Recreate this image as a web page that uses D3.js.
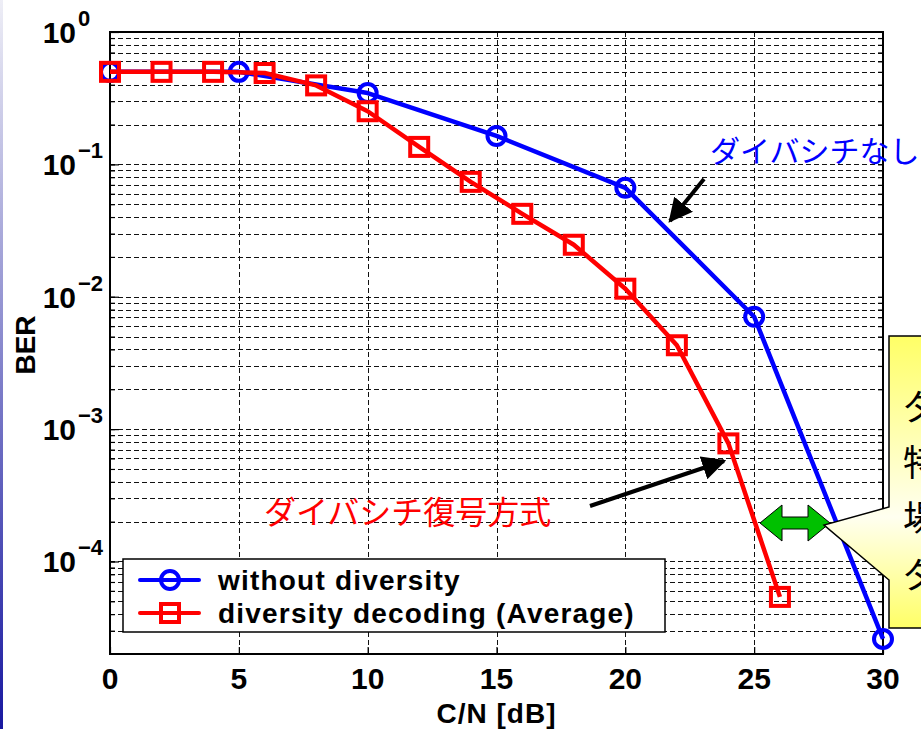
<!DOCTYPE html>
<html>
<head>
<meta charset="utf-8">
<script src="https://cdn.jsdelivr.net/npm/d3@7"></script>
<style>
  body { margin: 0; background: #fff; }
  svg { display: block; }
  .tick text { display: none; }
  .domain { display: none; }
</style>
</head>
<body>
<svg class="chart" width="921" height="729"></svg>
<script>
// data
var cnBlue = [0, 5, 10, 15, 20, 25, 30];
var berBlue = [0.5, 0.5, 0.346, 0.164, 0.0665, 0.00706, 2.6e-5];
var cnRed = [0, 2, 4, 6, 8, 10, 12, 14, 16, 18, 20, 22, 24, 26];
var berRed = [0.5, 0.5, 0.5, 0.49, 0.395, 0.252, 0.1355, 0.0738, 0.0423, 0.0247, 0.0115, 0.0043, 7.8e-4, 5.4e-5];
var xTicks = [0, 5, 10, 15, 20, 25, 30];
var yExps = [0, -1, -2, -3, -4];
var legendLabels = ["without diversity", "diversity decoding (Average)"];

// plot box (window.top is reserved, so use other names)
var pLeft = 110, pRight = 883, pTop = 32, pBottom = 654;

var x = d3.scaleLinear().domain([0, 30]).range([pLeft, pRight]);
var y = d3.scaleLog().domain([2e-5, 1]).range([pBottom, pTop]);

var chart = d3.select(".chart");
var defs = chart.append("defs");

// left edge gradient strip
var sideGrad = defs.append("linearGradient").attr("id", "side")
    .attr("x1", 0).attr("y1", 0).attr("x2", 0).attr("y2", 1);
sideGrad.append("stop").attr("offset", 0).attr("stop-color", "#eeeef6");
sideGrad.append("stop").attr("offset", 1).attr("stop-color", "#1818a0");
chart.append("rect").attr("x", 0).attr("y", 0).attr("width", 3).attr("height", 729)
    .attr("fill", "url(#side)");

// minor log values for grid
var minor = [];
[-5, -4, -3, -2, -1].forEach(function(e) {
  for (var k = 1; k <= 9; k++) {
    var v = k * Math.pow(10, e);
    if (v > 2.05e-5 && v < 0.999) minor.push(v);
  }
});

// grid
var grid = chart.append("g").attr("stroke", "#111").attr("stroke-width", 1)
    .attr("stroke-dasharray", "5,3").attr("fill", "none");
grid.selectAll("line.h").data(minor).enter().append("line")
    .attr("x1", pLeft).attr("x2", pRight)
    .attr("y1", function(d) { return Math.round(y(d)) + 0.5; })
    .attr("y2", function(d) { return Math.round(y(d)) + 0.5; });
grid.selectAll("line.v").data(xTicks.slice(1, -1)).enter().append("line")
    .attr("y1", pTop).attr("y2", pBottom)
    .attr("x1", function(d) { return Math.round(x(d)) + 0.5; })
    .attr("x2", function(d) { return Math.round(x(d)) + 0.5; });

// ticks (inside)
chart.append("g").attr("transform", "translate(" + pLeft + ",0)")
    .call(d3.axisLeft(y).tickValues(minor).tickSize(-5).tickFormat(""));
chart.append("g").attr("transform", "translate(" + pLeft + ",0)")
    .call(d3.axisLeft(y).tickValues(yExps.map(function(e) { return Math.pow(10, e); })).tickSize(-9).tickFormat(""));
chart.append("g").attr("transform", "translate(" + pRight + ",0)")
    .call(d3.axisRight(y).tickValues(minor).tickSize(-5).tickFormat(""));
chart.append("g").attr("transform", "translate(0," + pBottom + ")")
    .call(d3.axisBottom(x).tickValues(xTicks).tickSize(-7).tickFormat(""));
chart.selectAll(".tick line").attr("stroke", "#000").attr("stroke-width", 1.2);

// frame
chart.append("rect").attr("x", pLeft).attr("y", pTop)
    .attr("width", pRight - pLeft).attr("height", pBottom - pTop)
    .attr("fill", "none").attr("stroke", "#000").attr("stroke-width", 2);

// y labels 10^n
var yLab = chart.append("g").attr("font-family", "'Liberation Sans', Arial, sans-serif")
    .attr("font-weight", "bold").attr("fill", "#000");
yExps.forEach(function(e) {
  yLab.append("text").attr("x", 76).attr("y", y(Math.pow(10, e)) + 11)
      .attr("text-anchor", "end").attr("font-size", 30).text("10");
  yLab.append("text").attr("x", 78).attr("y", y(Math.pow(10, e)) - 6)
      .attr("font-size", 22).text(e === 0 ? "0" : "\u2212" + (-e));
});

// x labels
chart.append("g").selectAll("text").data(xTicks).enter().append("text")
    .attr("x", function(d) { return x(d); }).attr("y", 689)
    .attr("text-anchor", "middle")
    .attr("font-family", "'Liberation Sans', Arial, sans-serif")
    .attr("font-weight", "bold").attr("font-size", 30)
    .text(function(d) { return d; });

// axis titles
chart.append("text").attr("x", (pLeft + pRight) / 2).attr("y", 723)
    .attr("text-anchor", "middle")
    .attr("font-family", "'Liberation Sans', Arial, sans-serif")
    .attr("font-weight", "bold").attr("font-size", 28)
    .attr("letter-spacing", 1).text("C/N [dB]");
chart.append("text").attr("transform", "translate(35,345) rotate(-90)")
    .attr("text-anchor", "middle")
    .attr("font-family", "'Liberation Sans', Arial, sans-serif")
    .attr("font-weight", "bold").attr("font-size", 28).text("BER");

// lines
var line = d3.line()
    .x(function(d) { return x(d[0]); })
    .y(function(d) { return y(d[1]); });

var blueData = d3.zip(cnBlue, berBlue);
var redData = d3.zip(cnRed, berRed);

chart.append("path").attr("d", line(blueData))
    .attr("fill", "none").attr("stroke", "#0000ff").attr("stroke-width", 4.5)
    .attr("stroke-linejoin", "round");
chart.selectAll("circle.blue").data(blueData).enter().append("circle")
    .attr("cx", function(d) { return x(d[0]); })
    .attr("cy", function(d) { return y(d[1]); })
    .attr("r", 9).attr("fill", "none").attr("stroke", "#0000ff").attr("stroke-width", 4);

chart.append("path").attr("d", line(redData))
    .attr("fill", "none").attr("stroke", "#ff0000").attr("stroke-width", 4.5)
    .attr("stroke-linejoin", "round");
chart.selectAll("rect.red").data(redData).enter().append("rect")
    .attr("x", function(d) { return x(d[0]) - 9; })
    .attr("y", function(d) { return y(d[1]) - 9; })
    .attr("width", 18).attr("height", 18)
    .attr("fill", "none").attr("stroke", "#ff0000").attr("stroke-width", 4);

// legend
var legend = chart.append("g");
legend.append("rect").attr("x", 123).attr("y", 559).attr("width", 542).attr("height", 73)
    .attr("fill", "#fff").attr("stroke", "#000").attr("stroke-width", 1.5);
legend.append("line").attr("x1", 140).attr("x2", 199).attr("y1", 580).attr("y2", 580)
    .attr("stroke", "#0000ff").attr("stroke-width", 4).attr("stroke-linecap", "round");
legend.append("circle").attr("cx", 170).attr("cy", 580).attr("r", 9)
    .attr("fill", "none").attr("stroke", "#0000ff").attr("stroke-width", 4);
legend.append("line").attr("x1", 140).attr("x2", 199).attr("y1", 613).attr("y2", 613)
    .attr("stroke", "#ff0000").attr("stroke-width", 4).attr("stroke-linecap", "round");
legend.append("rect").attr("x", 161).attr("y", 604).attr("width", 18).attr("height", 18)
    .attr("fill", "none").attr("stroke", "#ff0000").attr("stroke-width", 4);
legend.selectAll("text").data(legendLabels).enter().append("text")
    .attr("x", 218).attr("y", function(d, i) { return 590 + i * 33; })
    .attr("font-family", "'Liberation Sans', Arial, sans-serif")
    .attr("font-weight", "bold").attr("font-size", 28)
    .attr("letter-spacing", 1.2)
    .text(function(d) { return d; });

// annotations
var jp = "'Noto Sans CJK JP', sans-serif";
chart.append("text").attr("x", 710).attr("y", 162)
    .attr("font-family", jp).attr("font-size", 30).attr("fill", "#0000ff")
    .text("ダイバシチなし");
chart.append("text").attr("x", 264).attr("y", 524)
    .attr("font-family", jp).attr("font-size", 32).attr("fill", "#ff0000")
    .text("ダイバシチ復号方式");

defs.append("marker").attr("id", "head").attr("viewBox", "0 0 10 10")
    .attr("refX", 9).attr("refY", 5).attr("markerWidth", 6).attr("markerHeight", 6)
    .attr("orient", "auto").attr("markerUnits", "strokeWidth")
  .append("path").attr("d", "M0,0 L10,5 L0,10 Z").attr("fill", "#000");

chart.append("line").attr("x1", 704).attr("y1", 179).attr("x2", 670).attr("y2", 221)
    .attr("stroke", "#000").attr("stroke-width", 4).attr("marker-end", "url(#head)");
chart.append("line").attr("x1", 590).attr("y1", 506).attr("x2", 724).attr("y2", 461)
    .attr("stroke", "#000").attr("stroke-width", 4).attr("marker-end", "url(#head)");

// green double arrow
chart.append("path")
    .attr("d", "M760,523 L782,505 L782,517 L808,517 L808,505 L830,523 L808,541 L808,529 L782,529 L782,541 Z")
    .attr("fill", "#00c000").attr("stroke", "#000").attr("stroke-width", 1);

// yellow callout
var callGrad = defs.append("linearGradient").attr("id", "call")
    .attr("gradientUnits", "userSpaceOnUse")
    .attr("x1", 0).attr("y1", 336).attr("x2", 0).attr("y2", 628);
callGrad.append("stop").attr("offset", 0).attr("stop-color", "#ffff66");
callGrad.append("stop").attr("offset", 0.62).attr("stop-color", "#fffff0");
callGrad.append("stop").attr("offset", 1).attr("stop-color", "#ffff66");
chart.append("path")
    .attr("d", "M889,336 L940,336 L940,628 L889,628 L889,580 L824,525 L889,507 Z")
    .attr("fill", "url(#call)").attr("stroke", "#000").attr("stroke-width", 1.5);
var callChars = ["ダ", "特", "場", "ダ"];
chart.append("g").selectAll("text").data(callChars).enter().append("text")
    .attr("x", 903).attr("y", function(d, i) { return 420 + i * 56; })
    .attr("font-family", jp).attr("font-size", 36).attr("fill", "#000")
    .text(function(d) { return d; });
</script>
</body>
</html>
